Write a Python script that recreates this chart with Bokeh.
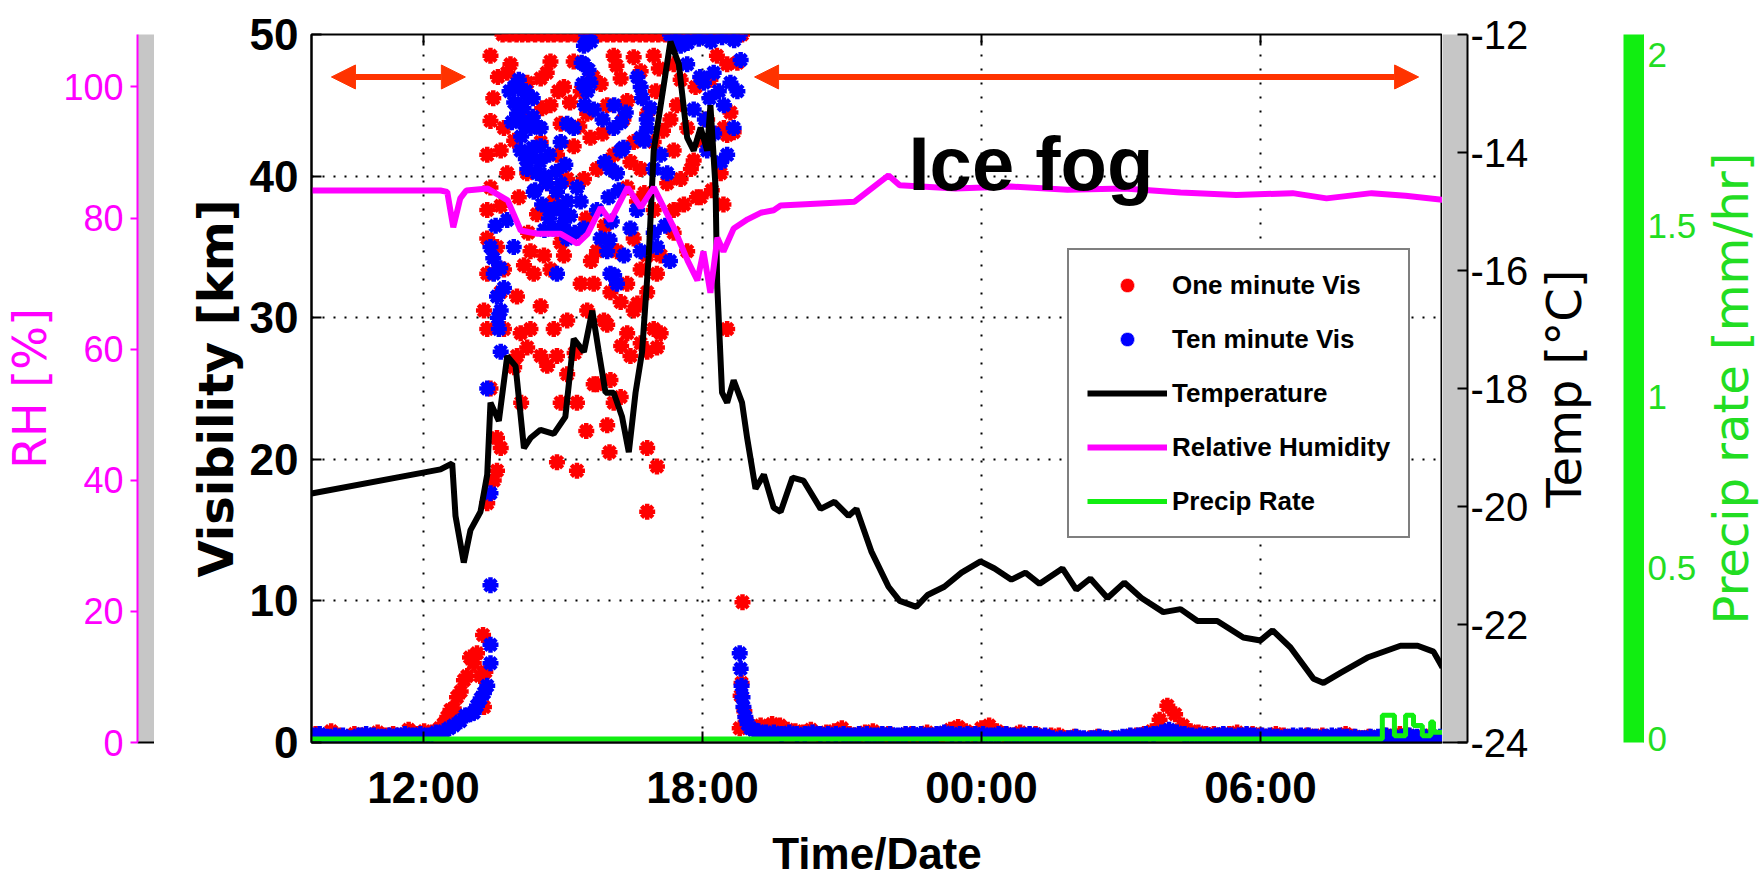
import math
from bokeh.plotting import figure
from bokeh.models import Range1d, LinearAxis, FixedTicker, Arrow, NormalHead, Label
from bokeh.layouts import row
from bokeh.embed import file_html
from bokeh.resources import INLINE

# ---------------- data (time in hours since 00:00 of the first day) ----------------
x_start, x_end = 9.591, 33.914
hour_ticks = [12, 18, 24, 30]
hour_tick_labels = ["12:00", "18:00", "00:00", "06:00"]
vis_min, vis_max = 0, 50
vis_ticks = [0, 10, 20, 30, 40, 50]
temp_ticks = [-24, -22, -20, -18, -16, -14, -12]
rh_ticks = [0, 20, 40, 60, 80, 100]
pr_ticks = [0, 0.5, 1, 1.5, 2]
pr_tick_labels = ["0", "0.5", "1", "1.5", "2"]

temp_hour = [9.591, 12.365, 12.617, 12.688, 12.866, 13.01, 13.225, 13.37, 13.44, 13.62, 13.80, 13.98,
             14.16, 14.30, 14.515, 14.80, 15.05, 15.23, 15.45, 15.63, 15.77, 15.914, 16.09, 16.27,
             16.415, 16.56, 16.70, 16.845, 16.95, 17.10, 17.31, 17.49, 17.67, 17.81, 17.96, 18.10,
             18.17, 18.28, 18.315, 18.42, 18.53, 18.67, 18.85, 18.96, 19.14, 19.32, 19.53, 19.68,
             19.935, 20.17, 20.54, 20.84, 21.14, 21.31, 21.63, 22.0, 22.24, 22.60, 22.84, 23.20,
             23.57, 23.98, 24.28, 24.645, 24.945, 25.25, 25.74, 26.04, 26.34, 26.71, 27.07, 27.44,
             27.91, 28.28, 28.645, 29.07, 29.63, 30.0, 30.26, 30.645, 31.14, 31.355, 31.72, 32.30,
             33.01, 33.38, 33.72, 33.914]
temp_c = [-19.78, -19.37, -19.27, -20.16, -20.95, -20.4, -20.09, -19.46, -18.24, -18.55, -17.45, -17.62,
          -19.01, -18.84, -18.70, -18.77, -18.48, -17.16, -17.38, -16.68, -17.38, -18.07, -18.07, -18.48,
          -19.08, -18.07, -17.38, -15.74, -13.97, -13.2, -12.12, -12.5, -13.75, -13.97, -13.58, -13.97,
          -13.2, -14.59, -16.22, -18.07, -18.24, -17.86, -18.24, -18.84, -19.7, -19.46, -20.02, -20.09,
          -19.51, -19.56, -20.04, -19.92, -20.16, -20.04, -20.76, -21.36, -21.6, -21.7, -21.5, -21.36,
          -21.12, -20.93, -21.05, -21.24, -21.12, -21.31, -21.05, -21.41, -21.22, -21.55, -21.29, -21.55,
          -21.79, -21.74, -21.94, -21.94, -22.22, -22.27, -22.1, -22.39, -22.92, -22.99, -22.82, -22.56,
          -22.36, -22.36, -22.46, -22.73]

rh_hour = [9.591, 12.365, 12.51, 12.64, 12.79, 12.92, 13.38, 13.81, 14.09, 14.45, 14.95, 15.31, 15.53,
           15.81, 16.02, 16.39, 16.67, 16.95, 17.38, 17.68, 17.89, 18.02, 18.17, 18.32, 18.45, 18.67,
           18.97, 19.25, 19.53, 19.68, 21.27, 22.0, 22.24, 23.44, 24.64, 25.85, 27.07, 28.28, 29.48,
           30.69, 31.42, 32.39, 33.12, 33.914]
rh_pct = [84.2, 84.2, 84.0, 78.6, 83.0, 84.2, 84.5, 82.7, 78.1, 77.6, 77.6, 76.1, 77.6, 81.6, 79.6,
          84.7, 81.6, 84.7, 78.6, 73.5, 70.5, 74.9, 68.6, 77.0, 74.9, 78.4, 79.8, 80.8, 81.2, 81.9,
          82.5, 86.5, 85.0, 84.5, 84.8, 84.3, 84.5, 83.9, 83.5, 83.8, 83.0, 83.8, 83.4, 82.8]

pr_hour = [9.591, 32.62, 32.62, 32.88, 32.88, 33.12, 33.12, 33.29, 33.29, 33.48, 33.48, 33.66,
           33.66, 33.72, 33.72, 33.914]
pr_rate = [0, 0, 0.07, 0.07, 0.01, 0.01, 0.07, 0.07, 0.04, 0.04, 0.01, 0.01, 0.05, 0.05, 0.02, 0.02]

# one-minute visibility (km)
sample_step = 1 / 6  # 10-minute sampling of the fog-period readings
red_fog1_start = 9.68
red_fog1_vis = [0.6, 0.4, 0.8, 0.5, 0.3, 0.6, 0.5, 0.4, 0.7, 0.5, 0.6, 0.4, 0.9, 0.6, 0.8, 0.7, 1.0, 1.2]
red_rise_hour = [12.43, 12.51, 12.58, 12.65, 12.72, 12.80, 12.87, 12.94, 13.00, 13.08, 13.15, 13.22, 13.28, 13.33, 13.30]
red_rise_vis = [1.3, 1.8, 2.3, 2.4, 3.2, 3.6, 4.4, 4.7, 6.0, 5.6, 6.3, 4.7, 7.6, 5.0, 2.5]
red_clear_hour = [13.44, 13.87, 14.73, 15.23, 16.09, 16.52, 16.95, 17.38, 18.31, 18.53,
                  13.80, 14.23, 14.52, 15.02, 15.38, 15.81, 16.24, 16.67, 17.06, 17.53, 17.85, 18.17,
                  13.44, 13.73, 14.09, 14.73, 14.95, 15.52, 15.95, 16.38, 16.81, 17.31, 17.67, 18.10, 18.46, 18.67,
                  13.37, 13.66, 14.52, 14.87, 15.23, 15.59, 16.09, 16.52, 16.95, 17.38, 17.81, 18.53,
                  13.44, 13.80, 14.23, 14.66, 15.09, 15.45, 15.73, 16.38, 16.67, 17.24, 17.53, 17.96, 18.39,
                  13.37, 13.66, 14.44, 14.80, 16.59, 16.95, 17.38, 17.88,
                  13.37, 13.58, 14.30, 14.59, 14.95, 15.38, 15.73, 16.16, 16.52, 16.81, 17.38, 17.67,
                  13.37, 13.73, 14.16, 14.37, 14.73, 15.02, 15.38, 15.66, 16.02, 16.38, 16.67, 17.10,
                  13.30, 13.66, 14.01, 14.52, 15.09, 15.52, 15.88, 16.24, 16.52, 16.81, 17.02,
                  13.37, 13.73, 14.09, 14.30, 14.80, 15.95, 16.38, 16.67, 16.95, 17.10, 18.53,
                  14.01, 14.23, 14.52, 14.66, 14.87, 15.09, 15.66, 16.02, 16.45, 16.81, 17.02,
                  13.44, 14.95, 15.30, 15.73, 16.09, 16.24,
                  13.58, 13.66, 14.87, 15.30, 15.95, 16.81, 17.02,
                  13.51, 13.58, 13.37, 16.81,
                  13.50, 13.60, 13.95, 14.05, 14.25, 14.55, 14.65, 14.90, 15.15, 15.35, 15.65, 15.85,
                  16.15, 16.30, 16.45, 16.75, 17.00, 17.15, 17.45, 17.60, 17.75, 18.00, 18.20, 18.45,
                  18.60, 18.75, 15.50, 15.60, 15.90, 16.60, 16.25, 15.25, 14.10, 13.95, 15.50, 16.00]
red_clear_vis = [48.5, 47.9, 48.1, 48.1, 48.5, 48.4, 48.5, 47.9, 48.5, 47.9,
                 47.3, 46.6, 46.9, 46.3, 46.0, 46.5, 46.9, 47.4, 47.6, 46.8, 46.3, 46.8,
                 43.9, 43.4, 44.4, 45.0, 43.7, 44.4, 45.0, 45.3, 44.4, 44.0, 43.4, 44.0, 43.4, 43.1,
                 41.5, 41.8, 42.4, 41.5, 42.1, 42.7, 41.5, 42.4, 42.4, 41.8, 41.1, 42.9,
                 39.2, 40.2, 40.2, 39.5, 39.8, 39.8, 40.5, 39.2, 40.5, 39.5, 39.8, 38.5, 40.2,
                 37.6, 37.9, 37.3, 38.2, 38.2, 37.6, 37.6, 38.5,
                 35.6, 35.0, 34.7, 34.4, 35.3, 36.0, 34.7, 34.7, 35.6, 34.4, 36.0, 34.7,
                 33.1, 33.4, 33.7, 33.1, 33.4, 34.4, 32.4, 32.4, 31.8, 32.4, 33.4, 34.4,
                 30.5, 31.8, 31.5, 30.8, 29.8, 30.5, 29.8, 31.1, 30.5, 31.8, 33.1,
                 29.2, 29.2, 28.9, 29.2, 29.2, 29.5, 28.9, 28.2, 29.2, 28.9, 29.2,
                 27.3, 27.9, 27.3, 26.6, 27.3, 26.0, 25.3, 25.6, 27.3, 27.6, 27.9,
                 25.0, 24.0, 24.0, 25.3, 24.0, 24.4,
                 21.5, 20.8, 19.8, 19.2, 22.4, 20.8, 19.5,
                 18.5, 19.2, 16.9, 16.3,
                 45.5, 47.0, 42.5, 38.5, 36.0, 44.8, 47.3, 46.0, 45.2, 43.5, 47.0, 43.0,
                 47.8, 44.0, 41.0, 38.8, 46.0, 43.2, 45.0, 38.0, 40.5, 42.5, 39.0, 38.0,
                 44.5, 48.0, 37.0, 34.0, 36.5, 31.0, 28.0, 27.5, 24.0, 26.5, 22.0, 20.5]
red_cap_hour = [13.70, 13.85, 14.00, 14.12, 14.25, 14.40, 14.55, 14.68, 14.80, 14.95, 15.10, 15.25,
                15.38, 15.52, 15.65, 15.80, 15.95, 16.08, 16.22, 16.35, 16.50, 16.65, 16.78, 16.92,
                17.05, 17.20, 17.35, 17.50, 17.62, 17.75, 17.90, 18.05, 18.18, 18.32, 18.45, 18.60,
                18.72, 18.85]
red_cap_vis = [50.0] * len(red_cap_hour)  # readings at the instrument maximum
red_post_hour = [18.80, 18.82, 18.84, 18.86, 18.90, 18.95, 19.00, 19.10, 19.25]
red_post_vis = [1.0, 3.3, 4.2, 9.9, 2.2, 1.5, 1.2, 1.0, 1.2]
red_fog2_start = 19.33
red_fog2_vis = [1.0, 1.3, 1.2, 0.9, 0.8, 0.7, 0.9, 0.6, 0.7, 0.8, 1.0,
                0.6, 0.5, 0.7, 0.8, 0.5, 0.6, 0.4, 0.5, 0.6, 0.4, 0.7, 0.5, 0.6, 0.9, 1.1, 0.8, 0.6, 1.0,
                1.2, 0.8, 0.6, 0.5, 0.7, 0.5, 0.6, 0.4, 0.5, 0.5,
                0.3, 0.4, 0.2, 0.3, 0.4, 0.3, 0.3, 0.2, 0.4, 0.5,
                0.6, 0.8, 1.6, 2.6, 2.0, 1.2, 0.8, 0.7, 0.6, 0.6,
                0.5, 0.6, 0.7, 0.5, 0.6, 0.5, 0.4, 0.6, 0.5, 0.4, 0.3, 0.5,
                0.4, 0.5, 0.3, 0.4, 0.6, 0.4, 0.3, 0.4, 0.3, 0.5, 0.4, 0.6, 0.5, 0.3, 0.4, 0.5, 0.3]

# ten-minute visibility (km)
blue_fog1_start = 9.60
blue_fog1_vis = [0.5, 0.6, 0.4, 0.5, 0.5, 0.3, 0.5, 0.6, 0.5, 0.4, 0.5, 0.5, 0.6, 0.5, 0.6, 0.5, 0.7, 0.8]
blue_rise_hour = [12.55, 12.65, 12.79, 12.90, 13.00, 13.08, 13.15, 13.23, 13.30, 13.37, 13.44, 13.44, 13.44]
blue_rise_vis = [1.0, 1.2, 1.5, 1.9, 2.0, 2.1, 2.6, 3.1, 3.5, 4.0, 5.6, 6.9, 11.1]
blue_clear_hour = [14.09, 14.16, 14.01, 14.30, 14.09, 14.30, 14.52, 14.23, 14.44, 14.66, 14.37, 14.87,
                   15.09, 15.30, 15.38, 15.02, 14.73, 14.52, 15.09, 15.23, 14.95, 15.45, 15.52, 15.66,
                   15.45, 15.59, 16.09, 16.24, 16.16, 16.02, 16.67, 16.67, 16.81, 16.95, 17.24, 17.10,
                   17.53, 17.67, 17.81, 18.03, 18.10, 18.24, 18.46, 18.60, 18.75, 18.67, 18.53, 18.82,
                   14.80, 15.09, 15.45, 15.73, 15.81, 15.95, 16.02, 16.16, 16.31, 16.45, 16.59, 16.95,
                   17.02, 16.67, 13.94, 13.80, 14.87, 13.44, 13.51, 13.58, 13.66, 13.73, 13.62, 13.66,
                   13.37, 13.44, 13.95, 14.05, 14.20, 14.35, 16.70, 16.80, 16.10, 16.25,
                   17.30, 17.42, 17.55, 17.68, 17.80, 17.92, 18.05, 18.18, 18.30, 18.42, 18.55, 18.68,
                   18.80, 15.50, 15.60,
                   13.85, 13.95, 14.05, 14.15, 14.25, 14.35, 14.45, 13.90, 14.10, 14.20, 14.35, 14.50,
                   14.60, 14.70, 14.85, 14.95, 15.05, 14.40, 14.55, 14.70, 14.90, 15.00, 15.15, 15.25,
                   14.60, 13.50, 13.55, 13.60, 13.65, 15.40, 15.42, 15.47, 15.55, 15.85, 15.90, 15.98,
                   16.05, 16.20, 16.30, 16.35, 16.00, 16.10, 16.60, 16.75, 16.88, 17.20, 17.30, 17.95,
                   18.05, 18.15, 18.25, 18.35, 18.40]
blue_clear_vis = [45.0, 43.7, 44.4, 43.4, 41.8, 41.5, 42.1, 40.5, 40.2, 39.5, 38.9, 38.9,
                  38.2, 39.2, 38.2, 37.3, 37.6, 43.4, 43.7, 43.4, 42.4, 47.9, 46.0, 44.7,
                  49.2, 46.6, 43.4, 41.8, 40.2, 40.5, 46.3, 42.7, 43.4, 40.5, 40.2, 41.5,
                  49.2, 47.9, 44.7, 46.6, 41.8, 47.3, 45.0, 46.6, 46.0, 43.4, 41.5, 48.2,
                  36.3, 35.6, 36.3, 37.6, 35.6, 34.7, 33.1, 32.4, 34.4, 36.3, 37.6, 36.0,
                  35.0, 34.7, 35.0, 36.9, 33.1, 35.0, 33.1, 31.5, 30.5, 32.1, 29.2, 27.6,
                  25.0, 17.6, 46.3, 46.8, 46.0, 45.5, 45.5, 44.0, 45.0, 43.8,
                  50.0, 49.6, 50.0, 49.4, 50.0, 49.7, 50.0, 49.5, 50.0, 49.8, 50.0, 49.6,
                  50.0, 50.0, 49.5,
                  46.0, 45.2, 46.2, 44.8, 45.6, 44.2, 43.5, 43.8, 42.8, 41.2, 42.0, 41.0,
                  40.0, 41.5, 40.3, 39.5, 40.8, 39.0, 38.0, 37.0, 37.8, 36.5, 37.2, 36.0,
                  36.2, 34.2, 36.5, 30.0, 33.5, 48.0, 46.5, 45.0, 47.5, 44.0, 41.0, 38.5,
                  36.8, 39.0, 42.0, 44.5, 35.5, 33.0, 47.0, 42.5, 44.8, 36.5, 34.0, 47.0,
                  44.0, 45.5, 43.0, 46.0, 41.0]
blue_post_hour = [18.80, 18.82, 18.84, 18.86, 18.88, 18.92, 18.97, 19.03, 19.10]
blue_post_vis = [6.3, 5.2, 4.0, 3.2, 2.5, 1.8, 1.3, 1.0, 0.9]
blue_fog2_start = 19.20
blue_fog2_vis = [0.8, 0.7, 0.7, 0.6, 0.7, 0.6, 0.6, 0.7, 0.6, 0.6, 0.6,
                 0.6, 0.5, 0.6, 0.6, 0.5, 0.6, 0.6, 0.5, 0.6, 0.6, 0.6, 0.5, 0.6, 0.7, 0.6, 0.6, 0.6,
                 0.6, 0.6, 0.5, 0.6, 0.6, 0.5, 0.5, 0.6, 0.5, 0.5,
                 0.3, 0.3, 0.3, 0.4, 0.3, 0.3, 0.4, 0.3, 0.3, 0.4,
                 0.5, 0.5, 0.6, 0.6, 0.7, 0.9, 0.7, 0.6, 0.5, 0.5,
                 0.5, 0.5, 0.6, 0.5, 0.5, 0.6, 0.5, 0.5, 0.5, 0.4, 0.4, 0.5,
                 0.5, 0.5, 0.4, 0.4, 0.5, 0.5, 0.4, 0.4, 0.3, 0.4, 0.4, 0.5, 0.4, 0.4, 0.5, 0.4, 0.4,
                 0.4, 0.4]

# annotations
fog_periods = [(10.02, 12.90), (19.12, 33.40)]
fog_arrow_level = 47.0
fog_label_pos = (22.43, 40.9)

# ---------------- assemble scatter series ----------------
def sampled(t0, vals):
    return [t0 + i * sample_step for i in range(len(vals))]

red_x = (sampled(red_fog1_start, red_fog1_vis) + red_rise_hour + red_clear_hour + red_cap_hour
         + red_post_hour + sampled(red_fog2_start, red_fog2_vis))
red_y = red_fog1_vis + red_rise_vis + red_clear_vis + red_cap_vis + red_post_vis + red_fog2_vis
blue_x = (sampled(blue_fog1_start, blue_fog1_vis) + blue_rise_hour + blue_clear_hour
          + blue_post_hour + sampled(blue_fog2_start, blue_fog2_vis))
blue_y = blue_fog1_vis + blue_rise_vis + blue_clear_vis + blue_post_vis + blue_fog2_vis

# ---------------- styling constants ----------------
H = 880
TOP, BOT = 34, 138
GRAY = "#c6c6c6"
MAG = "#ff00ff"
GREEN = "#11ee11"
GREEN_TXT = "#22dd22"
ARROW = "#ff3300"
SANS = "Liberation Sans"
WIDE = "DejaVu Sans"


def side_fig(width, left, right, bg, y_range):
    f = figure(width=width, height=H, output_backend="svg", toolbar_location=None, title=None,
               x_axis_location=None, y_axis_location=None,
               x_range=Range1d(0, 1), y_range=y_range,
               min_border_left=left, min_border_right=right,
               min_border_top=TOP, min_border_bottom=BOT,
               background_fill_color=bg, border_fill_color="white", outline_line_color=None)
    for g in f.grid:
        g.visible = False
    return f


def bottom_line(f):
    ax = LinearAxis(ticker=FixedTicker(ticks=[]), axis_line_color="black", axis_line_width=2,
                    major_tick_in=0, major_tick_out=0, minor_tick_line_color=None,
                    major_label_standoff=0, axis_label=None)
    f.add_layout(ax, "below")


def label_only_axis(f, text, color, size, standoff):
    ax = LinearAxis(ticker=FixedTicker(ticks=[]), axis_line_color=None, major_tick_line_color=None,
                    minor_tick_line_color=None, major_tick_in=0, major_tick_out=0,
                    major_label_standoff=0,
                    axis_label=text, axis_label_text_color=color, axis_label_text_font=WIDE,
                    axis_label_text_font_size=size, axis_label_text_font_style="normal",
                    axis_label_standoff=standoff)
    f.add_layout(ax, "left")


# ---------------- RH axis strip ----------------
f_rh = side_fig(154, 137, 0, GRAY, Range1d(0, 108))
ax_rh = LinearAxis(ticker=FixedTicker(ticks=rh_ticks), axis_line_color=MAG, axis_line_width=2,
                   major_tick_line_color=MAG, major_tick_line_width=2, major_tick_in=0, major_tick_out=7,
                   minor_tick_line_color=None, major_label_standoff=7,
                   major_label_text_color=MAG, major_label_text_font=SANS,
                   major_label_text_font_size="36px",
                   axis_label="RH [%]", axis_label_text_color=MAG, axis_label_text_font=WIDE,
                   axis_label_text_font_size="46px", axis_label_text_font_style="normal",
                   axis_label_standoff=3)
f_rh.add_layout(ax_rh, "left")
bottom_line(f_rh)

# ---------------- main plot ----------------
p = figure(width=1288, height=H, output_backend="svg", toolbar_location=None, title=None,
           x_range=Range1d(x_start, x_end), y_range=Range1d(vis_min, vis_max),
           min_border_left=157, min_border_right=0, min_border_top=TOP, min_border_bottom=BOT,
           background_fill_color="white", border_fill_color="white",
           outline_line_color="black", outline_line_width=2)
p.extra_y_ranges = {"temp": Range1d(-24, -12), "rh": Range1d(0, 108), "pr": Range1d(-0.01, 2.06)}

xa = p.xaxis[0]
xa.ticker = FixedTicker(ticks=hour_ticks)
xa.major_label_overrides = {t: l for t, l in zip(hour_ticks, hour_tick_labels)}
xa.major_tick_in = 11
xa.major_tick_out = 0
xa.major_tick_line_width = 2
xa.minor_tick_line_color = None
xa.axis_line_width = 2
xa.major_label_standoff = 20
xa.major_label_text_font = SANS
xa.major_label_text_font_style = "bold"
xa.major_label_text_font_size = "44px"
xa.major_label_text_color = "black"
xa.axis_label = "Time/Date"
xa.axis_label_text_font = SANS
xa.axis_label_text_font_style = "bold"
xa.axis_label_text_font_size = "44px"
xa.axis_label_text_color = "black"
xa.axis_label_standoff = 14

ya = p.yaxis[0]
ya.ticker = FixedTicker(ticks=vis_ticks)
ya.major_tick_in = 10
ya.major_tick_out = 0
ya.major_tick_line_width = 2
ya.minor_tick_line_color = None
ya.axis_line_width = 2
ya.major_label_standoff = 13
ya.major_label_text_font = SANS
ya.major_label_text_font_style = "bold"
ya.major_label_text_font_size = "44px"
ya.major_label_text_color = "black"
ya.axis_label = "Visibility [km]"
ya.axis_label_text_font = WIDE
ya.axis_label_text_font_style = "bold"
ya.axis_label_text_font_size = "48px"
ya.axis_label_text_color = "black"
ya.axis_label_standoff = 3

p.xgrid.ticker = FixedTicker(ticks=hour_ticks)
p.xgrid.grid_line_color = "black"
p.xgrid.grid_line_width = 2
p.xgrid.grid_line_dash = "2 12"
p.ygrid.ticker = FixedTicker(ticks=vis_ticks)
p.ygrid.grid_line_color = "black"
p.ygrid.grid_line_width = 2
p.ygrid.grid_line_dash = "2 9"

# tick marks along the top edge of the box (half of each vertical dash lies inside the frame)
p.scatter(hour_ticks, [vis_max] * len(hour_ticks), marker="dash", angle=math.pi / 2, size=22,
          line_color="black", line_width=2)

p.scatter(red_x, red_y, marker="asterisk", size=16, line_color="#ff0000", line_width=4.5,
          legend_label="One minute Vis")
p.scatter(blue_x, blue_y, marker="asterisk", size=16, line_color="#0000ff", line_width=4.5,
          legend_label="Ten minute Vis")
p.line(temp_hour, temp_c, y_range_name="temp", line_color="black", line_width=6,
       legend_label="Temperature")
p.line(rh_hour, rh_pct, y_range_name="rh", line_color=MAG, line_width=6,
       legend_label="Relative Humidity")
p.line(pr_hour, pr_rate, y_range_name="pr", line_color=GREEN, line_width=5,
       legend_label="Precip Rate")

for (a, b) in fog_periods:
    p.add_layout(Arrow(x_start=a, y_start=fog_arrow_level, x_end=b, y_end=fog_arrow_level,
                       line_color=ARROW, line_width=6,
                       start=NormalHead(size=24, fill_color=ARROW, line_color=ARROW, line_width=1),
                       end=NormalHead(size=24, fill_color=ARROW, line_color=ARROW, line_width=1)))

p.add_layout(Label(x=fog_label_pos[0], y=fog_label_pos[1], text="Ice fog", text_font=SANS,
                   text_font_style="bold", text_font_size="76px", text_color="black",
                   text_baseline="alphabetic"))

lg = p.legend[0]
lg.location = (756, 204)
lg.margin = 0
lg.padding = 18
lg.spacing = 20
lg.glyph_width = 80
lg.glyph_height = 34
lg.label_standoff = 5
lg.label_text_font = SANS
lg.label_text_font_style = "bold"
lg.label_text_font_size = "26px"
lg.label_text_color = "black"
lg.border_line_color = "black"
lg.border_line_width = 2
lg.background_fill_color = "white"
lg.background_fill_alpha = 1.0

# ---------------- Temperature axis strip ----------------
f_t = side_fig(89, 0, 64, GRAY, Range1d(-24, -12))
ax_t = LinearAxis(ticker=FixedTicker(ticks=temp_ticks), axis_line_color="black", axis_line_width=2,
                  major_tick_in=10, major_tick_out=0, major_tick_line_width=2,
                  minor_tick_line_color=None, major_label_standoff=3,
                  major_label_overrides={t: str(t) for t in temp_ticks},
                  major_label_text_font=SANS, major_label_text_font_size="40px",
                  major_label_text_color="black")
f_t.add_layout(ax_t, "right")
bottom_line(f_t)

# ---------------- Precip axis strip (carries the Temp axis title on its left) ----------------
f_p = side_fig(168, 92, 56, GREEN, Range1d(-0.01, 2.06))
label_only_axis(f_p, "Temp [°C]", "black", "48px", 32)
ax_p = LinearAxis(ticker=FixedTicker(ticks=pr_ticks), axis_line_color=GREEN, axis_line_width=1,
                  major_tick_in=0, major_tick_out=0, minor_tick_line_color=None,
                  major_label_standoff=4,
                  major_label_overrides={t: l for t, l in zip(pr_ticks, pr_tick_labels)},
                  major_label_text_font=SANS, major_label_text_font_size="35px",
                  major_label_text_color=GREEN_TXT)
f_p.add_layout(ax_p, "right")

# ---------------- end strip carrying the precip axis title ----------------
f_e = side_fig(63, 62, 0, "white", Range1d(-0.01, 2.06))
label_only_axis(f_e, "Precip rate [mm/hr]", GREEN_TXT, "48px", 3)

layout = row(f_rh, p, f_t, f_p, f_e)
open("out.html", "w").write(file_html(layout, INLINE))
